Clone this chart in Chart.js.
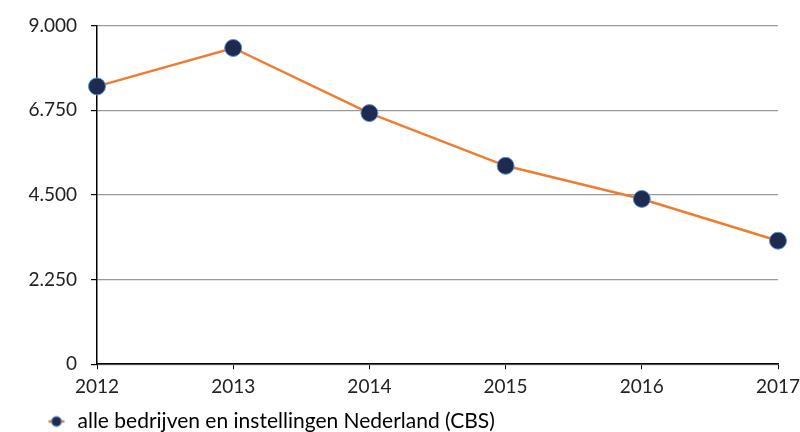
<!DOCTYPE html>
<html>
<head>
<meta charset="utf-8">
<script src="https://cdn.jsdelivr.net/npm/chart.js@4/dist/chart.umd.min.js"></script>
<style>
    html, body { margin: 0; padding: 0; background: #fff; }
    #wrap { width: 800px; height: 432px; }
</style>
</head>
<body>
<div id="wrap"><canvas id="chart"></canvas></div>
<script>
// Data
const years = ['2012', '2013', '2014', '2015', '2016', '2017'];
const companies = [7380, 8400, 6670, 5270, 4390, 3280];
const yTicks = [0, 2250, 4500, 6750, 9000];
const seriesLabel = 'alle bedrijven en instellingen Nederland (CBS)';

const lineColor = '#ed7d31';
const dotColor = '#1c2b4f';
const dotBorder = '#5b8fd0';
const textColor = '#222222';

// Dutch thousands separator
function fmt(v) {
    return String(v).replace(/\B(?=(\d{3})+(?!\d))/g, '.');
}

// Legend marker: short orange line with a navy dot
const marker = document.createElement('canvas');
marker.width = 18;
marker.height = 14;
const mctx = marker.getContext('2d');
mctx.strokeStyle = lineColor;
mctx.lineWidth = 2.5;
mctx.beginPath();
mctx.moveTo(1, 7);
mctx.lineTo(17, 7);
mctx.stroke();
mctx.fillStyle = dotColor;
mctx.strokeStyle = dotBorder;
mctx.lineWidth = 1;
mctx.beginPath();
mctx.arc(9, 7, 5, 0, Math.PI * 2);
mctx.fill();
mctx.stroke();

// Move the legend right and a bit down, like the original
const legendShift = {
    id: 'legendShift',
    afterLayout(chart) {
        const lg = chart.legend;
        lg.left = 43;
        lg.top += 4;
        lg.bottom += 4;
    }
};

Chart.defaults.font.family = 'Lato, "Open Sans", sans-serif';
Chart.defaults.color = textColor;

const ctx = document.getElementById('chart').getContext('2d');
new Chart(ctx, {
    type: 'line',
    data: {
        labels: years,
        datasets: [{
            label: seriesLabel,
            data: companies,
            borderColor: lineColor,
            borderWidth: 2.5,
            pointRadius: 8.5,
            pointHoverRadius: 8.5,
            pointBackgroundColor: dotColor,
            pointBorderColor: dotBorder,
            pointBorderWidth: 1,
            tension: 0,
            clip: false
        }]
    },
    plugins: [legendShift],
    options: {
        responsive: true,
        maintainAspectRatio: false,
        animation: false,
        layout: {
            padding: { top: -4, right: 0, bottom: -6, left: 0 }
        },
        plugins: {
            tooltip: { enabled: false },
            legend: {
                position: 'bottom',
                align: 'start',
                labels: {
                    usePointStyle: true,
                    padding: 3,
                    font: { size: 21 },
                    color: textColor,
                    generateLabels: chart => [{
                        text: seriesLabel,
                        pointStyle: marker,
                        datasetIndex: 0,
                        lineWidth: 0
                    }]
                }
            }
        },
        scales: {
            x: {
                offset: false,
                afterFit: scale => { scale.paddingRight = 22; },
                grid: {
                    drawOnChartArea: false,
                    tickLength: 5,
                    tickColor: '#000'
                },
                border: { color: '#000', width: 1.5 },
                ticks: {
                    font: { size: 19 },
                    color: textColor,
                    padding: 6,
                    maxRotation: 0
                }
            },
            y: {
                min: 0,
                max: 9000,
                afterFit: scale => { scale.width = 97; },
                afterBuildTicks: scale => {
                    scale.ticks = yTicks.map(v => ({ value: v }));
                },
                grid: {
                    color: '#9a9a9a',
                    lineWidth: 1.2,
                    tickLength: 6,
                    tickColor: '#000'
                },
                border: { color: '#000', width: 1.5 },
                ticks: {
                    font: { size: 19 },
                    color: textColor,
                    padding: 14,
                    callback: v => fmt(v)
                }
            }
        }
    }
});
</script>
</body>
</html>
